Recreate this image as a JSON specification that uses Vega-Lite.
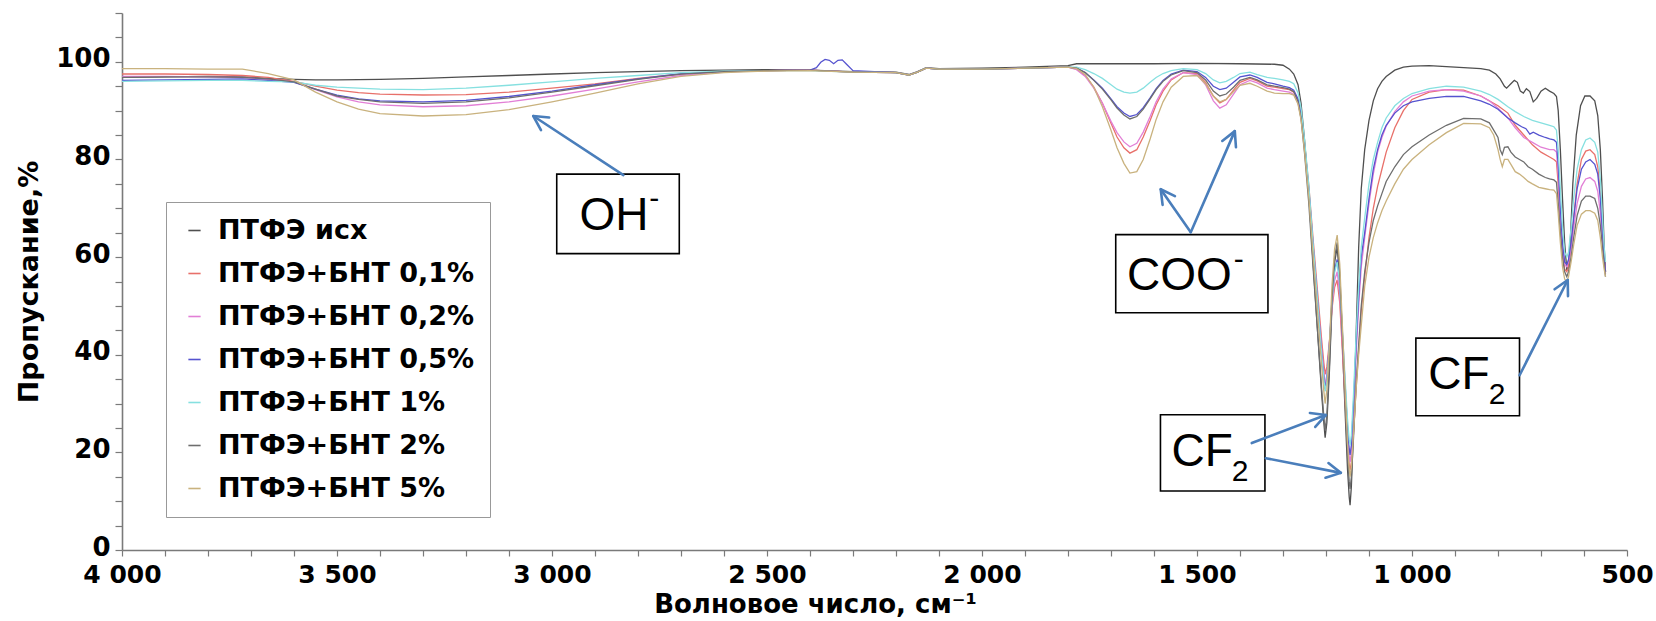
{
"$schema":"https://vega.github.io/schema/vega-lite/v6.json",
"width":1505,"height":537,
"autosize":{"type":"none"},
"padding":{"left":122,"top":13,"right":29,"bottom":71},
"background":"white",
"config":{"view":{"stroke":null},"font":"DejaVu Sans"},
"datasets":{
"spectra":[
{"series":"исх","wn":4000,"T":96.8},{"series":"исх","wn":3900,"T":96.9},{"series":"исх","wn":3800,"T":97.0},{"series":"исх","wn":3720,"T":96.9},{"series":"исх","wn":3660,"T":96.6},{"series":"исх","wn":3600,"T":96.4},{"series":"исх","wn":3550,"T":96.3},{"series":"исх","wn":3500,"T":96.3},{"series":"исх","wn":3400,"T":96.4},{"series":"исх","wn":3300,"T":96.6},{"series":"исх","wn":3200,"T":96.9},{"series":"исх","wn":3100,"T":97.2},{"series":"исх","wn":3000,"T":97.5},{"series":"исх","wn":2900,"T":97.8},{"series":"исх","wn":2800,"T":98.0},{"series":"исх","wn":2700,"T":98.2},{"series":"исх","wn":2600,"T":98.3},{"series":"исх","wn":2500,"T":98.4},{"series":"исх","wn":2400,"T":98.3},{"series":"исх","wn":2300,"T":98.0},{"series":"исх","wn":2200,"T":97.9},{"series":"исх","wn":2170,"T":97.4},{"series":"исх","wn":2150,"T":98.0},{"series":"исх","wn":2130,"T":98.8},{"series":"исх","wn":2100,"T":98.6},{"series":"исх","wn":2000,"T":98.7},{"series":"исх","wn":1900,"T":98.9},{"series":"исх","wn":1800,"T":99.2},{"series":"исх","wn":1780,"T":99.6},{"series":"исх","wn":1700,"T":99.6},{"series":"исх","wn":1600,"T":99.6},{"series":"исх","wn":1500,"T":99.7},{"series":"исх","wn":1400,"T":99.6},{"series":"исх","wn":1320,"T":99.5},{"series":"исх","wn":1300,"T":99.3},{"series":"исх","wn":1285,"T":98.5},{"series":"исх","wn":1275,"T":97.5},{"series":"исх","wn":1265,"T":95.3},{"series":"исх","wn":1258,"T":91.5},{"series":"исх","wn":1250,"T":84.1},{"series":"исх","wn":1240,"T":72.9},{"series":"исх","wn":1230,"T":58.8},{"series":"исх","wn":1220,"T":45.3},{"series":"исх","wn":1210,"T":31.9},{"series":"исх","wn":1205,"T":26},{"series":"исх","wn":1202,"T":23},{"series":"исх","wn":1198,"T":26.1},{"series":"исх","wn":1192,"T":36.7},{"series":"исх","wn":1186,"T":50.3},{"series":"исх","wn":1180,"T":58.9},{"series":"исх","wn":1174,"T":62},{"series":"исх","wn":1168,"T":55.7},{"series":"исх","wn":1162,"T":42.5},{"series":"исх","wn":1156,"T":29.3},{"series":"исх","wn":1150,"T":16.6},{"series":"исх","wn":1146,"T":10.8},{"series":"исх","wn":1144,"T":9.2},{"series":"исх","wn":1141,"T":13},{"series":"исх","wn":1136,"T":25},{"series":"исх","wn":1130,"T":44},{"series":"исх","wn":1124,"T":62},{"series":"исх","wn":1118,"T":74},{"series":"исх","wn":1110,"T":82},{"series":"исх","wn":1100,"T":88},{"series":"исх","wn":1090,"T":92},{"series":"исх","wn":1080,"T":94.5},{"series":"исх","wn":1070,"T":96},{"series":"исх","wn":1060,"T":97},{"series":"исх","wn":1040,"T":98.3},{"series":"исх","wn":1020,"T":98.9},{"series":"исх","wn":1000,"T":99.1},{"series":"исх","wn":960,"T":99.2},{"series":"исх","wn":920,"T":99.0},{"series":"исх","wn":880,"T":98.8},{"series":"исх","wn":840,"T":98.6},{"series":"исх","wn":820,"T":98.3},{"series":"исх","wn":805,"T":97.5},{"series":"исх","wn":795,"T":96.5},{"series":"исх","wn":785,"T":95},{"series":"исх","wn":780,"T":94.6},{"series":"исх","wn":770,"T":95.5},{"series":"исх","wn":762,"T":96.2},{"series":"исх","wn":755,"T":95.8},{"series":"исх","wn":748,"T":94},{"series":"исх","wn":741,"T":93.6},{"series":"исх","wn":734,"T":94.5},{"series":"исх","wn":726,"T":93.9},{"series":"исх","wn":718,"T":91.8},{"series":"исх","wn":710,"T":92.5},{"series":"исх","wn":700,"T":94},{"series":"исх","wn":690,"T":94.6},{"series":"исх","wn":680,"T":94},{"series":"исх","wn":670,"T":93.5},{"series":"исх","wn":664,"T":92.9},{"series":"исх","wn":660,"T":90},{"series":"исх","wn":655,"T":82},{"series":"исх","wn":650,"T":72},{"series":"исх","wn":645,"T":63},{"series":"исх","wn":640,"T":57.4},{"series":"исх","wn":636,"T":58},{"series":"исх","wn":632,"T":63},{"series":"исх","wn":626,"T":75},{"series":"исх","wn":618,"T":85},{"series":"исх","wn":608,"T":91},{"series":"исх","wn":598,"T":93},{"series":"исх","wn":586,"T":93},{"series":"исх","wn":575,"T":92},{"series":"исх","wn":568,"T":89},{"series":"исх","wn":562,"T":82},{"series":"исх","wn":557,"T":72},{"series":"исх","wn":553,"T":62},{"series":"исх","wn":550,"T":57},

{"series":"0,1%","wn":4000,"T":97.5},{"series":"0,1%","wn":3900,"T":97.5},{"series":"0,1%","wn":3800,"T":97.4},{"series":"0,1%","wn":3720,"T":97.2},{"series":"0,1%","wn":3660,"T":96.8},{"series":"0,1%","wn":3600,"T":96.0},{"series":"0,1%","wn":3550,"T":95.0},{"series":"0,1%","wn":3500,"T":94.2},{"series":"0,1%","wn":3450,"T":93.7},{"series":"0,1%","wn":3400,"T":93.4},{"series":"0,1%","wn":3300,"T":93.2},{"series":"0,1%","wn":3200,"T":93.3},{"series":"0,1%","wn":3100,"T":93.8},{"series":"0,1%","wn":3000,"T":94.6},{"series":"0,1%","wn":2900,"T":95.5},{"series":"0,1%","wn":2800,"T":96.6},{"series":"0,1%","wn":2700,"T":97.5},{"series":"0,1%","wn":2600,"T":98.0},{"series":"0,1%","wn":2500,"T":98.2},{"series":"0,1%","wn":2400,"T":98.3},{"series":"0,1%","wn":2300,"T":97.9},{"series":"0,1%","wn":2200,"T":97.8},{"series":"0,1%","wn":2170,"T":97.3},{"series":"0,1%","wn":2150,"T":97.9},{"series":"0,1%","wn":2130,"T":98.7},{"series":"0,1%","wn":2100,"T":98.5},{"series":"0,1%","wn":2000,"T":98.5},{"series":"0,1%","wn":1900,"T":98.7},{"series":"0,1%","wn":1800,"T":98.9},{"series":"0,1%","wn":1780,"T":98.5},{"series":"0,1%","wn":1760,"T":97.2},{"series":"0,1%","wn":1740,"T":94.8},{"series":"0,1%","wn":1720,"T":91.5},{"series":"0,1%","wn":1700,"T":87.4},{"series":"0,1%","wn":1686,"T":84.6},{"series":"0,1%","wn":1670,"T":82.4},{"series":"0,1%","wn":1656,"T":81.3},{"series":"0,1%","wn":1640,"T":82.0},{"series":"0,1%","wn":1625,"T":84.6},{"series":"0,1%","wn":1609,"T":88.0},{"series":"0,1%","wn":1595,"T":91.2},{"series":"0,1%","wn":1579,"T":94.0},{"series":"0,1%","wn":1560,"T":96.3},{"series":"0,1%","wn":1532,"T":97.8},{"series":"0,1%","wn":1500,"T":97.6},{"series":"0,1%","wn":1480,"T":95.8},{"series":"0,1%","wn":1462,"T":93.0},{"series":"0,1%","wn":1447,"T":91.6},{"series":"0,1%","wn":1432,"T":92.3},{"series":"0,1%","wn":1415,"T":94.2},{"series":"0,1%","wn":1400,"T":95.8},{"series":"0,1%","wn":1377,"T":96.6},{"series":"0,1%","wn":1360,"T":96.1},{"series":"0,1%","wn":1337,"T":95.0},{"series":"0,1%","wn":1320,"T":94.8},{"series":"0,1%","wn":1300,"T":94.5},{"series":"0,1%","wn":1285,"T":94.3},{"series":"0,1%","wn":1275,"T":93.8},{"series":"0,1%","wn":1265,"T":92.1},{"series":"0,1%","wn":1258,"T":89.2},{"series":"0,1%","wn":1250,"T":83.4},{"series":"0,1%","wn":1240,"T":74.7},{"series":"0,1%","wn":1230,"T":63.7},{"series":"0,1%","wn":1220,"T":53.3},{"series":"0,1%","wn":1210,"T":42.9},{"series":"0,1%","wn":1205,"T":38.3},{"series":"0,1%","wn":1202,"T":36},{"series":"0,1%","wn":1198,"T":37.5},{"series":"0,1%","wn":1192,"T":42.8},{"series":"0,1%","wn":1186,"T":49.5},{"series":"0,1%","wn":1180,"T":53.8},{"series":"0,1%","wn":1174,"T":55.3},{"series":"0,1%","wn":1168,"T":50.6},{"series":"0,1%","wn":1162,"T":40.9},{"series":"0,1%","wn":1156,"T":31.1},{"series":"0,1%","wn":1150,"T":21.8},{"series":"0,1%","wn":1146,"T":17.5},{"series":"0,1%","wn":1144,"T":16.3},{"series":"0,1%","wn":1141,"T":18},{"series":"0,1%","wn":1136,"T":24},{"series":"0,1%","wn":1130,"T":33},{"series":"0,1%","wn":1124,"T":41},{"series":"0,1%","wn":1118,"T":49},{"series":"0,1%","wn":1110,"T":56},{"series":"0,1%","wn":1100,"T":64},{"series":"0,1%","wn":1090,"T":70},{"series":"0,1%","wn":1080,"T":74.5},{"series":"0,1%","wn":1070,"T":78},{"series":"0,1%","wn":1060,"T":81.5},{"series":"0,1%","wn":1040,"T":86.5},{"series":"0,1%","wn":1020,"T":90},{"series":"0,1%","wn":1000,"T":92.3},{"series":"0,1%","wn":960,"T":93.8},{"series":"0,1%","wn":920,"T":94.3},{"series":"0,1%","wn":880,"T":94.2},{"series":"0,1%","wn":840,"T":93},{"series":"0,1%","wn":800,"T":91},{"series":"0,1%","wn":777,"T":89.5},{"series":"0,1%","wn":760,"T":87},{"series":"0,1%","wn":740,"T":85},{"series":"0,1%","wn":720,"T":83},{"series":"0,1%","wn":700,"T":81.5},{"series":"0,1%","wn":680,"T":80.5},{"series":"0,1%","wn":670,"T":80},{"series":"0,1%","wn":664,"T":79.5},{"series":"0,1%","wn":660,"T":75},{"series":"0,1%","wn":655,"T":67},{"series":"0,1%","wn":650,"T":61},{"series":"0,1%","wn":645,"T":57.5},{"series":"0,1%","wn":640,"T":57},{"series":"0,1%","wn":636,"T":58},{"series":"0,1%","wn":630,"T":62},{"series":"0,1%","wn":624,"T":68},{"series":"0,1%","wn":616,"T":75},{"series":"0,1%","wn":606,"T":80},{"series":"0,1%","wn":596,"T":81.7},{"series":"0,1%","wn":586,"T":82},{"series":"0,1%","wn":575,"T":81},{"series":"0,1%","wn":568,"T":78.5},{"series":"0,1%","wn":562,"T":73},{"series":"0,1%","wn":557,"T":66},{"series":"0,1%","wn":553,"T":60},{"series":"0,1%","wn":550,"T":57},

{"series":"0,2%","wn":4000,"T":97.0},{"series":"0,2%","wn":3900,"T":97.0},{"series":"0,2%","wn":3800,"T":96.9},{"series":"0,2%","wn":3720,"T":96.8},{"series":"0,2%","wn":3660,"T":96.4},{"series":"0,2%","wn":3600,"T":95.9},{"series":"0,2%","wn":3550,"T":94.3},{"series":"0,2%","wn":3500,"T":92.8},{"series":"0,2%","wn":3450,"T":91.8},{"series":"0,2%","wn":3400,"T":91.2},{"series":"0,2%","wn":3300,"T":90.8},{"series":"0,2%","wn":3200,"T":91.0},{"series":"0,2%","wn":3100,"T":91.8},{"series":"0,2%","wn":3000,"T":93.0},{"series":"0,2%","wn":2900,"T":94.4},{"series":"0,2%","wn":2800,"T":95.9},{"series":"0,2%","wn":2700,"T":97.2},{"series":"0,2%","wn":2600,"T":97.9},{"series":"0,2%","wn":2500,"T":98.2},{"series":"0,2%","wn":2400,"T":98.3},{"series":"0,2%","wn":2300,"T":97.9},{"series":"0,2%","wn":2200,"T":97.8},{"series":"0,2%","wn":2170,"T":97.3},{"series":"0,2%","wn":2150,"T":97.9},{"series":"0,2%","wn":2130,"T":98.7},{"series":"0,2%","wn":2100,"T":98.5},{"series":"0,2%","wn":2000,"T":98.5},{"series":"0,2%","wn":1900,"T":98.7},{"series":"0,2%","wn":1800,"T":98.9},{"series":"0,2%","wn":1780,"T":98.4},{"series":"0,2%","wn":1760,"T":97.0},{"series":"0,2%","wn":1740,"T":94.6},{"series":"0,2%","wn":1720,"T":91.5},{"series":"0,2%","wn":1700,"T":87.8},{"series":"0,2%","wn":1686,"T":85.5},{"series":"0,2%","wn":1670,"T":83.6},{"series":"0,2%","wn":1656,"T":82.6},{"series":"0,2%","wn":1640,"T":83.3},{"series":"0,2%","wn":1625,"T":85.6},{"series":"0,2%","wn":1609,"T":88.8},{"series":"0,2%","wn":1595,"T":91.8},{"series":"0,2%","wn":1579,"T":94.4},{"series":"0,2%","wn":1560,"T":96.5},{"series":"0,2%","wn":1532,"T":97.8},{"series":"0,2%","wn":1500,"T":97.4},{"series":"0,2%","wn":1480,"T":95.3},{"series":"0,2%","wn":1462,"T":92.0},{"series":"0,2%","wn":1447,"T":90.5},{"series":"0,2%","wn":1432,"T":91.2},{"series":"0,2%","wn":1415,"T":93.4},{"series":"0,2%","wn":1400,"T":95.3},{"series":"0,2%","wn":1377,"T":96.2},{"series":"0,2%","wn":1360,"T":95.7},{"series":"0,2%","wn":1337,"T":94.6},{"series":"0,2%","wn":1320,"T":94.3},{"series":"0,2%","wn":1300,"T":94.0},{"series":"0,2%","wn":1285,"T":93.8},{"series":"0,2%","wn":1275,"T":93.3},{"series":"0,2%","wn":1265,"T":91.5},{"series":"0,2%","wn":1258,"T":88.6},{"series":"0,2%","wn":1250,"T":82.6},{"series":"0,2%","wn":1240,"T":73.7},{"series":"0,2%","wn":1230,"T":62.5},{"series":"0,2%","wn":1220,"T":51.8},{"series":"0,2%","wn":1210,"T":41.1},{"series":"0,2%","wn":1205,"T":36.4},{"series":"0,2%","wn":1202,"T":34},{"series":"0,2%","wn":1198,"T":35.8},{"series":"0,2%","wn":1192,"T":42.1},{"series":"0,2%","wn":1186,"T":50.1},{"series":"0,2%","wn":1180,"T":55.2},{"series":"0,2%","wn":1174,"T":57},{"series":"0,2%","wn":1168,"T":52.3},{"series":"0,2%","wn":1162,"T":42.6},{"series":"0,2%","wn":1156,"T":32.8},{"series":"0,2%","wn":1150,"T":23.5},{"series":"0,2%","wn":1146,"T":19.2},{"series":"0,2%","wn":1144,"T":18},{"series":"0,2%","wn":1141,"T":20},{"series":"0,2%","wn":1136,"T":28},{"series":"0,2%","wn":1130,"T":40},{"series":"0,2%","wn":1124,"T":50},{"series":"0,2%","wn":1118,"T":58},{"series":"0,2%","wn":1110,"T":64},{"series":"0,2%","wn":1100,"T":71},{"series":"0,2%","wn":1090,"T":77},{"series":"0,2%","wn":1080,"T":81.5},{"series":"0,2%","wn":1070,"T":84.5},{"series":"0,2%","wn":1060,"T":86.8},{"series":"0,2%","wn":1040,"T":89.8},{"series":"0,2%","wn":1020,"T":91.8},{"series":"0,2%","wn":1000,"T":93},{"series":"0,2%","wn":960,"T":94},{"series":"0,2%","wn":920,"T":94.3},{"series":"0,2%","wn":880,"T":94},{"series":"0,2%","wn":840,"T":93},{"series":"0,2%","wn":820,"T":92},{"series":"0,2%","wn":800,"T":90.5},{"series":"0,2%","wn":777,"T":88.5},{"series":"0,2%","wn":760,"T":86.5},{"series":"0,2%","wn":740,"T":84.5},{"series":"0,2%","wn":720,"T":83.5},{"series":"0,2%","wn":700,"T":82.5},{"series":"0,2%","wn":680,"T":82},{"series":"0,2%","wn":670,"T":82},{"series":"0,2%","wn":664,"T":81.5},{"series":"0,2%","wn":660,"T":77},{"series":"0,2%","wn":655,"T":68},{"series":"0,2%","wn":650,"T":62},{"series":"0,2%","wn":645,"T":58.5},{"series":"0,2%","wn":640,"T":58},{"series":"0,2%","wn":636,"T":59},{"series":"0,2%","wn":630,"T":62},{"series":"0,2%","wn":624,"T":66},{"series":"0,2%","wn":616,"T":71},{"series":"0,2%","wn":606,"T":74.5},{"series":"0,2%","wn":596,"T":76},{"series":"0,2%","wn":586,"T":76.3},{"series":"0,2%","wn":575,"T":75.5},{"series":"0,2%","wn":568,"T":73.5},{"series":"0,2%","wn":562,"T":69},{"series":"0,2%","wn":557,"T":63},{"series":"0,2%","wn":553,"T":59},{"series":"0,2%","wn":550,"T":56.5},

{"series":"0,5%","wn":4000,"T":96.2},{"series":"0,5%","wn":3900,"T":96.3},{"series":"0,5%","wn":3800,"T":96.4},{"series":"0,5%","wn":3720,"T":96.5},{"series":"0,5%","wn":3660,"T":96.2},{"series":"0,5%","wn":3600,"T":95.8},{"series":"0,5%","wn":3550,"T":94.4},{"series":"0,5%","wn":3500,"T":93.2},{"series":"0,5%","wn":3450,"T":92.4},{"series":"0,5%","wn":3400,"T":92.0},{"series":"0,5%","wn":3300,"T":91.8},{"series":"0,5%","wn":3200,"T":92.1},{"series":"0,5%","wn":3100,"T":92.9},{"series":"0,5%","wn":3000,"T":94.0},{"series":"0,5%","wn":2900,"T":95.3},{"series":"0,5%","wn":2800,"T":96.5},{"series":"0,5%","wn":2700,"T":97.6},{"series":"0,5%","wn":2600,"T":98.0},{"series":"0,5%","wn":2500,"T":98.2},{"series":"0,5%","wn":2400,"T":98.3},{"series":"0,5%","wn":2385,"T":98.8},{"series":"0,5%","wn":2375,"T":99.9},{"series":"0,5%","wn":2365,"T":100.5},{"series":"0,5%","wn":2355,"T":100.3},{"series":"0,5%","wn":2345,"T":99.6},{"series":"0,5%","wn":2335,"T":100.3},{"series":"0,5%","wn":2325,"T":100.4},{"series":"0,5%","wn":2315,"T":99.5},{"series":"0,5%","wn":2300,"T":98.2},{"series":"0,5%","wn":2200,"T":97.8},{"series":"0,5%","wn":2170,"T":97.3},{"series":"0,5%","wn":2150,"T":97.9},{"series":"0,5%","wn":2130,"T":98.7},{"series":"0,5%","wn":2100,"T":98.5},{"series":"0,5%","wn":2000,"T":98.5},{"series":"0,5%","wn":1900,"T":98.7},{"series":"0,5%","wn":1800,"T":98.9},{"series":"0,5%","wn":1780,"T":98.7},{"series":"0,5%","wn":1760,"T":97.8},{"series":"0,5%","wn":1740,"T":96.3},{"series":"0,5%","wn":1720,"T":94.6},{"series":"0,5%","wn":1700,"T":92.4},{"series":"0,5%","wn":1686,"T":90.8},{"series":"0,5%","wn":1670,"T":89.5},{"series":"0,5%","wn":1656,"T":88.8},{"series":"0,5%","wn":1640,"T":89.2},{"series":"0,5%","wn":1625,"T":90.6},{"series":"0,5%","wn":1609,"T":92.6},{"series":"0,5%","wn":1595,"T":94.5},{"series":"0,5%","wn":1579,"T":96.2},{"series":"0,5%","wn":1560,"T":97.5},{"series":"0,5%","wn":1532,"T":98.3},{"series":"0,5%","wn":1500,"T":98.0},{"series":"0,5%","wn":1480,"T":96.8},{"series":"0,5%","wn":1462,"T":95.0},{"series":"0,5%","wn":1447,"T":94.3},{"series":"0,5%","wn":1432,"T":94.6},{"series":"0,5%","wn":1415,"T":95.8},{"series":"0,5%","wn":1400,"T":96.9},{"series":"0,5%","wn":1377,"T":97.3},{"series":"0,5%","wn":1360,"T":96.8},{"series":"0,5%","wn":1337,"T":95.8},{"series":"0,5%","wn":1320,"T":95.5},{"series":"0,5%","wn":1300,"T":95.0},{"series":"0,5%","wn":1285,"T":94.7},{"series":"0,5%","wn":1275,"T":94.2},{"series":"0,5%","wn":1265,"T":92.4},{"series":"0,5%","wn":1258,"T":89.3},{"series":"0,5%","wn":1250,"T":83.2},{"series":"0,5%","wn":1240,"T":74},{"series":"0,5%","wn":1230,"T":62.4},{"series":"0,5%","wn":1220,"T":51.4},{"series":"0,5%","wn":1210,"T":40.3},{"series":"0,5%","wn":1205,"T":35.4},{"series":"0,5%","wn":1202,"T":33},{"series":"0,5%","wn":1198,"T":35.1},{"series":"0,5%","wn":1192,"T":42.3},{"series":"0,5%","wn":1186,"T":51.6},{"series":"0,5%","wn":1180,"T":57.4},{"series":"0,5%","wn":1174,"T":59.5},{"series":"0,5%","wn":1168,"T":54.7},{"series":"0,5%","wn":1162,"T":44.7},{"series":"0,5%","wn":1156,"T":34.7},{"series":"0,5%","wn":1150,"T":25.1},{"series":"0,5%","wn":1146,"T":20.7},{"series":"0,5%","wn":1144,"T":19.5},{"series":"0,5%","wn":1141,"T":21.5},{"series":"0,5%","wn":1136,"T":30},{"series":"0,5%","wn":1130,"T":42},{"series":"0,5%","wn":1124,"T":52},{"series":"0,5%","wn":1118,"T":60},{"series":"0,5%","wn":1110,"T":65},{"series":"0,5%","wn":1100,"T":72},{"series":"0,5%","wn":1090,"T":78},{"series":"0,5%","wn":1080,"T":82},{"series":"0,5%","wn":1070,"T":85},{"series":"0,5%","wn":1060,"T":87},{"series":"0,5%","wn":1040,"T":89.5},{"series":"0,5%","wn":1020,"T":91},{"series":"0,5%","wn":1000,"T":91.8},{"series":"0,5%","wn":960,"T":92.5},{"series":"0,5%","wn":920,"T":92.9},{"series":"0,5%","wn":880,"T":92.9},{"series":"0,5%","wn":840,"T":92},{"series":"0,5%","wn":820,"T":91.3},{"series":"0,5%","wn":800,"T":90.3},{"series":"0,5%","wn":777,"T":88.5},{"series":"0,5%","wn":760,"T":87.5},{"series":"0,5%","wn":745,"T":86.7},{"series":"0,5%","wn":735,"T":86.3},{"series":"0,5%","wn":726,"T":85.2},{"series":"0,5%","wn":718,"T":85.6},{"series":"0,5%","wn":705,"T":85},{"series":"0,5%","wn":690,"T":84.5},{"series":"0,5%","wn":680,"T":84.2},{"series":"0,5%","wn":670,"T":84},{"series":"0,5%","wn":664,"T":83.5},{"series":"0,5%","wn":660,"T":79},{"series":"0,5%","wn":655,"T":70},{"series":"0,5%","wn":650,"T":63},{"series":"0,5%","wn":645,"T":59},{"series":"0,5%","wn":640,"T":58.5},{"series":"0,5%","wn":636,"T":59.5},{"series":"0,5%","wn":630,"T":63},{"series":"0,5%","wn":624,"T":68},{"series":"0,5%","wn":616,"T":74},{"series":"0,5%","wn":606,"T":78},{"series":"0,5%","wn":596,"T":79.5},{"series":"0,5%","wn":586,"T":80},{"series":"0,5%","wn":575,"T":79},{"series":"0,5%","wn":568,"T":77},{"series":"0,5%","wn":562,"T":72},{"series":"0,5%","wn":557,"T":65},{"series":"0,5%","wn":553,"T":60},{"series":"0,5%","wn":550,"T":57},

{"series":"1%","wn":4000,"T":96.0},{"series":"1%","wn":3900,"T":96.1},{"series":"1%","wn":3800,"T":96.2},{"series":"1%","wn":3720,"T":96.2},{"series":"1%","wn":3660,"T":96.0},{"series":"1%","wn":3600,"T":95.9},{"series":"1%","wn":3550,"T":95.2},{"series":"1%","wn":3500,"T":94.8},{"series":"1%","wn":3400,"T":94.4},{"series":"1%","wn":3300,"T":94.3},{"series":"1%","wn":3200,"T":94.6},{"series":"1%","wn":3100,"T":95.2},{"series":"1%","wn":3000,"T":95.9},{"series":"1%","wn":2900,"T":96.6},{"series":"1%","wn":2800,"T":97.2},{"series":"1%","wn":2700,"T":97.8},{"series":"1%","wn":2600,"T":98.1},{"series":"1%","wn":2500,"T":98.2},{"series":"1%","wn":2400,"T":98.2},{"series":"1%","wn":2300,"T":97.9},{"series":"1%","wn":2200,"T":97.8},{"series":"1%","wn":2170,"T":97.3},{"series":"1%","wn":2150,"T":97.9},{"series":"1%","wn":2130,"T":98.7},{"series":"1%","wn":2100,"T":98.5},{"series":"1%","wn":2000,"T":98.5},{"series":"1%","wn":1900,"T":98.7},{"series":"1%","wn":1800,"T":98.9},{"series":"1%","wn":1780,"T":98.9},{"series":"1%","wn":1760,"T":98.4},{"series":"1%","wn":1740,"T":97.6},{"series":"1%","wn":1720,"T":96.6},{"series":"1%","wn":1700,"T":95.3},{"series":"1%","wn":1686,"T":94.4},{"series":"1%","wn":1670,"T":93.8},{"series":"1%","wn":1656,"T":93.6},{"series":"1%","wn":1640,"T":93.8},{"series":"1%","wn":1625,"T":94.6},{"series":"1%","wn":1609,"T":95.8},{"series":"1%","wn":1595,"T":96.8},{"series":"1%","wn":1579,"T":97.6},{"series":"1%","wn":1560,"T":98.2},{"series":"1%","wn":1532,"T":98.6},{"series":"1%","wn":1500,"T":98.4},{"series":"1%","wn":1480,"T":97.6},{"series":"1%","wn":1462,"T":96.3},{"series":"1%","wn":1447,"T":95.7},{"series":"1%","wn":1432,"T":96.0},{"series":"1%","wn":1415,"T":96.8},{"series":"1%","wn":1400,"T":97.6},{"series":"1%","wn":1377,"T":97.9},{"series":"1%","wn":1360,"T":97.4},{"series":"1%","wn":1337,"T":96.8},{"series":"1%","wn":1320,"T":96.6},{"series":"1%","wn":1300,"T":96.3},{"series":"1%","wn":1285,"T":96.0},{"series":"1%","wn":1275,"T":95.5},{"series":"1%","wn":1265,"T":93.6},{"series":"1%","wn":1258,"T":90.5},{"series":"1%","wn":1250,"T":84.2},{"series":"1%","wn":1240,"T":74.7},{"series":"1%","wn":1230,"T":62.7},{"series":"1%","wn":1220,"T":51.4},{"series":"1%","wn":1210,"T":40.1},{"series":"1%","wn":1205,"T":35},{"series":"1%","wn":1202,"T":32.5},{"series":"1%","wn":1198,"T":34.6},{"series":"1%","wn":1192,"T":41.8},{"series":"1%","wn":1186,"T":51.1},{"series":"1%","wn":1180,"T":56.9},{"series":"1%","wn":1174,"T":59},{"series":"1%","wn":1168,"T":54.5},{"series":"1%","wn":1162,"T":45.1},{"series":"1%","wn":1156,"T":35.8},{"series":"1%","wn":1150,"T":26.8},{"series":"1%","wn":1146,"T":22.6},{"series":"1%","wn":1144,"T":21.5},{"series":"1%","wn":1141,"T":23.5},{"series":"1%","wn":1136,"T":32},{"series":"1%","wn":1130,"T":44},{"series":"1%","wn":1124,"T":54},{"series":"1%","wn":1118,"T":62},{"series":"1%","wn":1110,"T":68},{"series":"1%","wn":1100,"T":75},{"series":"1%","wn":1090,"T":80},{"series":"1%","wn":1080,"T":83.5},{"series":"1%","wn":1070,"T":86.5},{"series":"1%","wn":1060,"T":88.5},{"series":"1%","wn":1040,"T":91},{"series":"1%","wn":1020,"T":92.5},{"series":"1%","wn":1000,"T":93.5},{"series":"1%","wn":960,"T":94.5},{"series":"1%","wn":920,"T":95},{"series":"1%","wn":880,"T":94.8},{"series":"1%","wn":840,"T":94},{"series":"1%","wn":820,"T":93.3},{"series":"1%","wn":800,"T":92.3},{"series":"1%","wn":777,"T":90.8},{"series":"1%","wn":760,"T":89.8},{"series":"1%","wn":740,"T":88.8},{"series":"1%","wn":720,"T":88},{"series":"1%","wn":700,"T":87.5},{"series":"1%","wn":680,"T":87},{"series":"1%","wn":670,"T":86.7},{"series":"1%","wn":664,"T":86},{"series":"1%","wn":660,"T":82},{"series":"1%","wn":655,"T":74},{"series":"1%","wn":650,"T":66},{"series":"1%","wn":645,"T":61},{"series":"1%","wn":640,"T":60},{"series":"1%","wn":636,"T":61},{"series":"1%","wn":630,"T":66},{"series":"1%","wn":624,"T":72},{"series":"1%","wn":616,"T":78},{"series":"1%","wn":606,"T":82},{"series":"1%","wn":596,"T":84},{"series":"1%","wn":586,"T":84.4},{"series":"1%","wn":575,"T":83.5},{"series":"1%","wn":568,"T":81.5},{"series":"1%","wn":562,"T":76},{"series":"1%","wn":557,"T":68},{"series":"1%","wn":553,"T":62},{"series":"1%","wn":550,"T":59},

{"series":"2%","wn":4000,"T":96.8},{"series":"2%","wn":3900,"T":96.9},{"series":"2%","wn":3800,"T":96.9},{"series":"2%","wn":3720,"T":96.8},{"series":"2%","wn":3660,"T":96.5},{"series":"2%","wn":3600,"T":95.9},{"series":"2%","wn":3550,"T":94.4},{"series":"2%","wn":3500,"T":93.0},{"series":"2%","wn":3450,"T":92.3},{"series":"2%","wn":3400,"T":91.8},{"series":"2%","wn":3300,"T":91.5},{"series":"2%","wn":3200,"T":91.8},{"series":"2%","wn":3100,"T":92.6},{"series":"2%","wn":3000,"T":93.8},{"series":"2%","wn":2900,"T":95.1},{"series":"2%","wn":2800,"T":96.4},{"series":"2%","wn":2700,"T":97.5},{"series":"2%","wn":2600,"T":98.0},{"series":"2%","wn":2500,"T":98.2},{"series":"2%","wn":2400,"T":98.3},{"series":"2%","wn":2300,"T":97.9},{"series":"2%","wn":2200,"T":97.8},{"series":"2%","wn":2170,"T":97.3},{"series":"2%","wn":2150,"T":97.9},{"series":"2%","wn":2130,"T":98.7},{"series":"2%","wn":2100,"T":98.5},{"series":"2%","wn":2000,"T":98.5},{"series":"2%","wn":1900,"T":98.7},{"series":"2%","wn":1800,"T":98.9},{"series":"2%","wn":1780,"T":98.7},{"series":"2%","wn":1760,"T":97.8},{"series":"2%","wn":1740,"T":96.2},{"series":"2%","wn":1720,"T":94.4},{"series":"2%","wn":1700,"T":92.2},{"series":"2%","wn":1686,"T":90.5},{"series":"2%","wn":1670,"T":89.1},{"series":"2%","wn":1656,"T":88.3},{"series":"2%","wn":1640,"T":88.8},{"series":"2%","wn":1625,"T":90.3},{"series":"2%","wn":1609,"T":92.4},{"series":"2%","wn":1595,"T":94.3},{"series":"2%","wn":1579,"T":96.0},{"series":"2%","wn":1560,"T":97.3},{"series":"2%","wn":1532,"T":98.2},{"series":"2%","wn":1500,"T":97.8},{"series":"2%","wn":1480,"T":96.3},{"series":"2%","wn":1462,"T":94.0},{"series":"2%","wn":1447,"T":93.0},{"series":"2%","wn":1432,"T":93.4},{"series":"2%","wn":1415,"T":94.8},{"series":"2%","wn":1400,"T":96.2},{"series":"2%","wn":1377,"T":96.8},{"series":"2%","wn":1360,"T":96.3},{"series":"2%","wn":1337,"T":95.3},{"series":"2%","wn":1320,"T":95.0},{"series":"2%","wn":1300,"T":94.7},{"series":"2%","wn":1285,"T":94.4},{"series":"2%","wn":1275,"T":93.9},{"series":"2%","wn":1265,"T":91.8},{"series":"2%","wn":1258,"T":88.3},{"series":"2%","wn":1250,"T":81.4},{"series":"2%","wn":1240,"T":71},{"series":"2%","wn":1230,"T":57.8},{"series":"2%","wn":1220,"T":45.3},{"series":"2%","wn":1210,"T":32.8},{"series":"2%","wn":1205,"T":27.3},{"series":"2%","wn":1202,"T":24.5},{"series":"2%","wn":1198,"T":27.6},{"series":"2%","wn":1192,"T":38},{"series":"2%","wn":1186,"T":51.5},{"series":"2%","wn":1180,"T":59.9},{"series":"2%","wn":1174,"T":63},{"series":"2%","wn":1168,"T":56.9},{"series":"2%","wn":1162,"T":44.3},{"series":"2%","wn":1156,"T":31.7},{"series":"2%","wn":1150,"T":19.6},{"series":"2%","wn":1146,"T":14},{"series":"2%","wn":1144,"T":12.5},{"series":"2%","wn":1141,"T":15},{"series":"2%","wn":1136,"T":23},{"series":"2%","wn":1130,"T":34},{"series":"2%","wn":1124,"T":42},{"series":"2%","wn":1118,"T":50},{"series":"2%","wn":1110,"T":57},{"series":"2%","wn":1100,"T":63},{"series":"2%","wn":1090,"T":67.5},{"series":"2%","wn":1080,"T":70.5},{"series":"2%","wn":1070,"T":73},{"series":"2%","wn":1060,"T":75.5},{"series":"2%","wn":1040,"T":78.5},{"series":"2%","wn":1020,"T":81},{"series":"2%","wn":1000,"T":82.6},{"series":"2%","wn":960,"T":85},{"series":"2%","wn":920,"T":87},{"series":"2%","wn":880,"T":88.4},{"series":"2%","wn":840,"T":88.3},{"series":"2%","wn":820,"T":87.5},{"series":"2%","wn":810,"T":86},{"series":"2%","wn":800,"T":84.5},{"series":"2%","wn":795,"T":82},{"series":"2%","wn":790,"T":81},{"series":"2%","wn":785,"T":82.5},{"series":"2%","wn":777,"T":82.6},{"series":"2%","wn":770,"T":81.5},{"series":"2%","wn":760,"T":80.5},{"series":"2%","wn":750,"T":80},{"series":"2%","wn":740,"T":79.5},{"series":"2%","wn":730,"T":78.5},{"series":"2%","wn":720,"T":78},{"series":"2%","wn":705,"T":77},{"series":"2%","wn":690,"T":76.3},{"series":"2%","wn":680,"T":76},{"series":"2%","wn":670,"T":75.8},{"series":"2%","wn":664,"T":75.3},{"series":"2%","wn":660,"T":71},{"series":"2%","wn":655,"T":65},{"series":"2%","wn":650,"T":60},{"series":"2%","wn":645,"T":57},{"series":"2%","wn":640,"T":56},{"series":"2%","wn":636,"T":57},{"series":"2%","wn":630,"T":60},{"series":"2%","wn":624,"T":64},{"series":"2%","wn":616,"T":68.5},{"series":"2%","wn":606,"T":71.5},{"series":"2%","wn":596,"T":72.5},{"series":"2%","wn":586,"T":72.5},{"series":"2%","wn":575,"T":72},{"series":"2%","wn":568,"T":70},{"series":"2%","wn":562,"T":66.5},{"series":"2%","wn":557,"T":62},{"series":"2%","wn":553,"T":58.5},{"series":"2%","wn":550,"T":56},

{"series":"5%","wn":4000,"T":98.6},{"series":"5%","wn":3900,"T":98.6},{"series":"5%","wn":3800,"T":98.5},{"series":"5%","wn":3720,"T":98.5},{"series":"5%","wn":3660,"T":97.6},{"series":"5%","wn":3600,"T":96.3},{"series":"5%","wn":3550,"T":93.8},{"series":"5%","wn":3500,"T":91.8},{"series":"5%","wn":3450,"T":90.3},{"series":"5%","wn":3400,"T":89.4},{"series":"5%","wn":3300,"T":88.9},{"series":"5%","wn":3200,"T":89.2},{"series":"5%","wn":3100,"T":90.2},{"series":"5%","wn":3000,"T":91.8},{"series":"5%","wn":2900,"T":93.6},{"series":"5%","wn":2800,"T":95.5},{"series":"5%","wn":2700,"T":97.0},{"series":"5%","wn":2600,"T":97.8},{"series":"5%","wn":2500,"T":98.1},{"series":"5%","wn":2400,"T":98.2},{"series":"5%","wn":2300,"T":97.9},{"series":"5%","wn":2200,"T":97.8},{"series":"5%","wn":2170,"T":97.3},{"series":"5%","wn":2150,"T":97.9},{"series":"5%","wn":2130,"T":98.7},{"series":"5%","wn":2100,"T":98.5},{"series":"5%","wn":2000,"T":98.5},{"series":"5%","wn":1900,"T":98.7},{"series":"5%","wn":1800,"T":98.9},{"series":"5%","wn":1780,"T":98.6},{"series":"5%","wn":1760,"T":97.4},{"series":"5%","wn":1740,"T":94.8},{"series":"5%","wn":1720,"T":90.8},{"series":"5%","wn":1700,"T":86.0},{"series":"5%","wn":1686,"T":82.4},{"series":"5%","wn":1670,"T":79.2},{"series":"5%","wn":1656,"T":77.2},{"series":"5%","wn":1640,"T":77.5},{"series":"5%","wn":1625,"T":80.0},{"series":"5%","wn":1609,"T":84.2},{"series":"5%","wn":1595,"T":88.2},{"series":"5%","wn":1579,"T":91.8},{"series":"5%","wn":1560,"T":94.8},{"series":"5%","wn":1532,"T":97.0},{"series":"5%","wn":1500,"T":97.2},{"series":"5%","wn":1480,"T":95.5},{"series":"5%","wn":1462,"T":93.0},{"series":"5%","wn":1447,"T":91.8},{"series":"5%","wn":1432,"T":92.3},{"series":"5%","wn":1415,"T":93.9},{"series":"5%","wn":1400,"T":95.2},{"series":"5%","wn":1377,"T":95.6},{"series":"5%","wn":1360,"T":95.0},{"series":"5%","wn":1337,"T":94.0},{"series":"5%","wn":1320,"T":93.6},{"series":"5%","wn":1300,"T":93.5},{"series":"5%","wn":1285,"T":93.5},{"series":"5%","wn":1275,"T":93.2},{"series":"5%","wn":1265,"T":91.3},{"series":"5%","wn":1258,"T":88.1},{"series":"5%","wn":1250,"T":81.8},{"series":"5%","wn":1240,"T":72.3},{"series":"5%","wn":1230,"T":60.3},{"series":"5%","wn":1220,"T":48.9},{"series":"5%","wn":1210,"T":37.6},{"series":"5%","wn":1205,"T":32.5},{"series":"5%","wn":1202,"T":30},{"series":"5%","wn":1198,"T":32.8},{"series":"5%","wn":1192,"T":42.1},{"series":"5%","wn":1186,"T":54.2},{"series":"5%","wn":1180,"T":61.7},{"series":"5%","wn":1174,"T":64.5},{"series":"5%","wn":1168,"T":58.6},{"series":"5%","wn":1162,"T":46.2},{"series":"5%","wn":1156,"T":33.8},{"series":"5%","wn":1150,"T":21.9},{"series":"5%","wn":1146,"T":16.5},{"series":"5%","wn":1144,"T":15},{"series":"5%","wn":1141,"T":17},{"series":"5%","wn":1136,"T":24},{"series":"5%","wn":1130,"T":33},{"series":"5%","wn":1124,"T":40},{"series":"5%","wn":1118,"T":46},{"series":"5%","wn":1110,"T":54},{"series":"5%","wn":1100,"T":60},{"series":"5%","wn":1090,"T":64},{"series":"5%","wn":1080,"T":67},{"series":"5%","wn":1070,"T":69.5},{"series":"5%","wn":1060,"T":71.5},{"series":"5%","wn":1040,"T":75},{"series":"5%","wn":1020,"T":78},{"series":"5%","wn":1000,"T":80},{"series":"5%","wn":960,"T":83},{"series":"5%","wn":920,"T":85.5},{"series":"5%","wn":880,"T":87.4},{"series":"5%","wn":840,"T":87.3},{"series":"5%","wn":820,"T":86.5},{"series":"5%","wn":810,"T":85},{"series":"5%","wn":800,"T":82},{"series":"5%","wn":795,"T":80},{"series":"5%","wn":790,"T":78.5},{"series":"5%","wn":785,"T":80},{"series":"5%","wn":777,"T":80},{"series":"5%","wn":770,"T":79},{"series":"5%","wn":760,"T":77.5},{"series":"5%","wn":750,"T":77},{"series":"5%","wn":740,"T":76.3},{"series":"5%","wn":730,"T":75.5},{"series":"5%","wn":720,"T":75},{"series":"5%","wn":705,"T":74.3},{"series":"5%","wn":690,"T":74},{"series":"5%","wn":680,"T":73.8},{"series":"5%","wn":670,"T":73.7},{"series":"5%","wn":664,"T":73},{"series":"5%","wn":660,"T":69},{"series":"5%","wn":655,"T":63},{"series":"5%","wn":650,"T":58},{"series":"5%","wn":645,"T":55.5},{"series":"5%","wn":640,"T":55},{"series":"5%","wn":636,"T":56},{"series":"5%","wn":630,"T":59},{"series":"5%","wn":624,"T":62.5},{"series":"5%","wn":616,"T":66.5},{"series":"5%","wn":606,"T":68.8},{"series":"5%","wn":596,"T":69.5},{"series":"5%","wn":586,"T":69.5},{"series":"5%","wn":575,"T":69},{"series":"5%","wn":568,"T":67.5},{"series":"5%","wn":562,"T":64},{"series":"5%","wn":557,"T":60},{"series":"5%","wn":553,"T":57.5},{"series":"5%","wn":550,"T":56}
],
"boxes":[
{"name":"OH","wn":2989,"wn2":2704,"T":77.0,"T2":60.7},
{"name":"COO","wn":1689,"wn2":1335,"T":64.6,"T2":48.6},
{"name":"CF2a","wn":1585,"wn2":1342,"T":27.7,"T2":12.1},
{"name":"CF2b","wn":991,"wn2":750,"T":43.4,"T2":27.5}
],
"arrows":[
{"seg":"oh","o":1,"wn":2834,"T":76.8},{"seg":"oh","o":2,"wn":3043.5,"T":88.9},
{"seg":"ohh","o":1,"wn":3025.6,"T":86.0},{"seg":"ohh","o":2,"wn":3043.5,"T":88.9},{"seg":"ohh","o":3,"wn":3006.5,"T":88.6},
{"seg":"c1","o":1,"wn":1514.5,"T":65.1},{"seg":"c1","o":2,"wn":1584.4,"T":73.9},
{"seg":"c1h","o":1,"wn":1580,"T":70.7},{"seg":"c1h","o":2,"wn":1584.4,"T":73.9},{"seg":"c1h","o":3,"wn":1551.3,"T":72.5},
{"seg":"c2","o":1,"wn":1514.5,"T":65.1},{"seg":"c2","o":2,"wn":1412.1,"T":85.8},
{"seg":"c2h","o":1,"wn":1441.2,"T":83.8},{"seg":"c2h","o":2,"wn":1412.1,"T":85.8},{"seg":"c2h","o":3,"wn":1409.4,"T":82.5},
{"seg":"f1","o":1,"wn":1372.6,"T":21.9},{"seg":"f1","o":2,"wn":1200.4,"T":27.65},
{"seg":"f1h","o":1,"wn":1237.4,"T":28.06},{"seg":"f1h","o":2,"wn":1200.4,"T":27.65},{"seg":"f1h","o":3,"wn":1225,"T":25.2},
{"seg":"f2","o":1,"wn":1340,"T":18.8},{"seg":"f2","o":2,"wn":1165.5,"T":15.8},
{"seg":"f2h","o":1,"wn":1194.3,"T":17.8},{"seg":"f2h","o":2,"wn":1165.5,"T":15.8},{"seg":"f2h","o":3,"wn":1201.1,"T":14.8},
{"seg":"f3","o":1,"wn":749.8,"T":35.8},{"seg":"f3","o":2,"wn":637.9,"T":55.3},
{"seg":"f3h","o":1,"wn":668.4,"T":53.4},{"seg":"f3h","o":2,"wn":637.9,"T":55.3},{"seg":"f3h","o":3,"wn":637.2,"T":52.0}
],
"labels":[
{"label":"OH","kind":"main","wn":2856,"T":65.5},
{"label":"-","kind":"script","wn":2762,"T":70.1},
{"label":"COO","kind":"main","wn":1541,"T":53.3},
{"label":"-","kind":"script","wn":1403,"T":57.6},
{"label":"CF","kind":"main","wn":1488,"T":17.2},
{"label":"2","kind":"script","wn":1400,"T":14.1},
{"label":"CF","kind":"main","wn":891,"T":33.0},
{"label":"2","kind":"script","wn":802,"T":29.9}
]
},
"encoding":{
"x":{"field":"wn","type":"quantitative","scale":{"domain":[500,4000],"reverse":true,"nice":false,"zero":false},
"axis":{"title":"Волновое число, см⁻¹","values":[500,600,700,800,900,1000,1100,1200,1300,1400,1500,1600,1700,1800,1900,2000,2100,2200,2300,2400,2500,2600,2700,2800,2900,3000,3100,3200,3300,3400,3500,3600,3700,3800,3900,4000],
"labelExpr":"datum.value % 500 == 0 ? replace(format(datum.value, ','), ',', ' ') : ''",
"grid":false,"labelOverlap":false,"labelFlush":false,"labelFont":"DejaVu Sans","labelFontWeight":"bold","labelFontSize":25,"labelColor":"black","labelPadding":6,
"tickSize":6,"tickColor":"#7a7a7a","tickWidth":1.2,"domainColor":"#7a7a7a","domainWidth":1.6,
"titleFont":"DejaVu Sans","titleFontWeight":"bold","titleFontSize":26,"titleColor":"black","titlePadding":4,"titleX":693,"titleAlign":"center"}},
"y":{"field":"T","type":"quantitative","scale":{"domain":[0,110],"nice":false,"zero":false},
"axis":{"title":"Пропускание,%","values":[0,5,10,15,20,25,30,35,40,45,50,55,60,65,70,75,80,85,90,95,100,105,110],
"labelExpr":"datum.value % 20 == 0 && datum.value <= 100 ? datum.label : ''",
"grid":false,"labelOverlap":false,"labelFont":"DejaVu Sans","labelFontWeight":"bold","labelFontSize":26,"labelColor":"black","labelPadding":5,"labelOffset":-3,
"tickSize":7,"tickColor":"#7a7a7a","tickWidth":1.2,"domainColor":"#7a7a7a","domainWidth":1.6,
"titleFont":"DejaVu Sans","titleFontWeight":"bold","titleFontSize":27,"titleColor":"black","titlePadding":12}}
},
"layer":[
{"data":{"name":"spectra"},
"mark":{"type":"line","strokeWidth":1.3},
"encoding":{"color":{"field":"series","type":"nominal",
"scale":{"domain":["исх","0,1%","0,2%","0,5%","1%","2%","5%"],"range":["#4f4f4f","#e8706a","#e27fd6","#5553cf","#86e0e0","#6e6e6e","#c9b27e"]},
"legend":{"orient":"none","legendX":44,"legendY":189,"title":null,
"labelExpr":"datum.value == 'исх' ? 'ПТФЭ исх' : 'ПТФЭ+БНТ ' + datum.value",
"labelFont":"DejaVu Sans","labelFontWeight":"bold","labelFontSize":27,"labelColor":"black","labelLimit":400,"labelOffset":10,
"symbolType":"stroke","symbolSize":150,"symbolStrokeWidth":1.6,"rowPadding":15,"padding":15,
"strokeColor":"#999999","fillColor":"white"}}}},
{"data":{"name":"boxes"},
"mark":{"type":"rect","fill":"white","stroke":"black","strokeWidth":1.6},
"encoding":{"x2":{"field":"wn2"},"y2":{"field":"T2"}}},
{"data":{"name":"arrows"},
"mark":{"type":"line","color":"#4a7ebb","strokeWidth":2.6,"strokeCap":"round","strokeJoin":"round"},
"encoding":{"detail":{"field":"seg","type":"nominal"},"order":{"field":"o","type":"quantitative"}}},
{"data":{"name":"labels"},
"transform":[{"filter":"datum.kind == 'main'"}],
"mark":{"type":"text","font":"Liberation Sans","fontSize":46,"align":"center","baseline":"alphabetic","color":"black"},
"encoding":{"text":{"field":"label","type":"nominal"}}},
{"data":{"name":"labels"},
"transform":[{"filter":"datum.kind == 'script'"}],
"mark":{"type":"text","font":"Liberation Sans","fontSize":30,"align":"center","baseline":"alphabetic","color":"black"},
"encoding":{"text":{"field":"label","type":"nominal"}}}
]
}
